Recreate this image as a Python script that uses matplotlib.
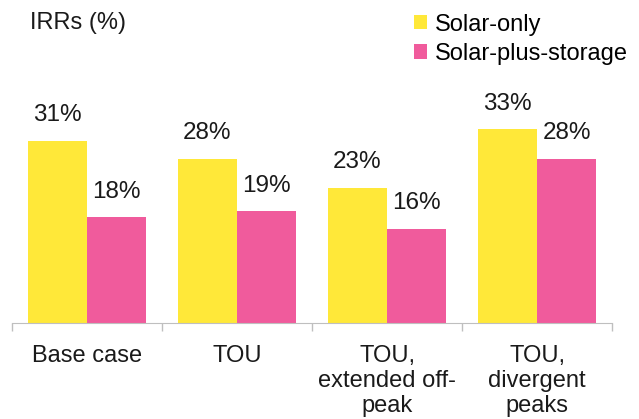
import matplotlib.pyplot as plt
import numpy as np

categorias = ["Base case", "TOU", "TOU,\nextended off-\npeak", "TOU,\ndivergent\npeaks"]
solar_only = [31, 28, 23, 33]
solar_storage = [18, 19, 16, 28]
series = ["Solar-only", "Solar-plus-storage"]

plt.rcParams['font.family'] = ['Liberation Sans', 'DejaVu Sans']

fig = plt.figure(figsize=(6.39, 4.19), dpi=100)
ax = fig.add_axes([12 / 639, 96 / 419, 600 / 639, 250 / 419])

x = np.arange(len(categorias))
ancho = 0.395
b1 = ax.bar(x - ancho / 2, solar_only, ancho, color='#FFE839', label=series[0])
b2 = ax.bar(x + ancho / 2, solar_storage, ancho, color='#F05B9C', label=series[1])

# etiquetas de valores
for barras in (b1, b2):
    for b in barras:
        ax.annotate(f"{b.get_height():.0f}%", (b.get_x() + b.get_width() / 2, b.get_height()),
                    xytext=(0, 10.5), textcoords='offset points', ha='center', va='bottom',
                    fontsize=17.5, color='#1a1a1a')

ax.set_xlim(-0.5, len(categorias) - 0.5)
ax.set_ylim(0, 250 / 5.87)
ax.set_xticks(x)
ax.set_xticklabels(categorias, fontsize=17, color='#1a1a1a', linespacing=1.18)
ax.tick_params(axis='x', which='major', length=0, pad=16)
ax.set_xticks(np.arange(-0.5, len(categorias)), minor=True)
ax.tick_params(axis='x', which='minor', length=6, color='#BFBFBF', width=1)
ax.set_yticks([])
for s in ['top', 'right', 'left']:
    ax.spines[s].set_visible(False)
ax.spines['bottom'].set_color('#BFBFBF')

fig.text(30 / 639, 1 - 23 / 419, "IRRs (%)", fontsize=17, va='center', ha='left', color='#1a1a1a')

ax.legend(loc='upper left', bbox_to_anchor=(396 / 639, 1 + 4 / 419), bbox_transform=fig.transFigure,
          frameon=False, fontsize=17, handlelength=0.55, handleheight=0.55, handletextpad=0.35,
          labelspacing=0.3, borderpad=0.25)

fig.savefig('out.png', dpi=100)
